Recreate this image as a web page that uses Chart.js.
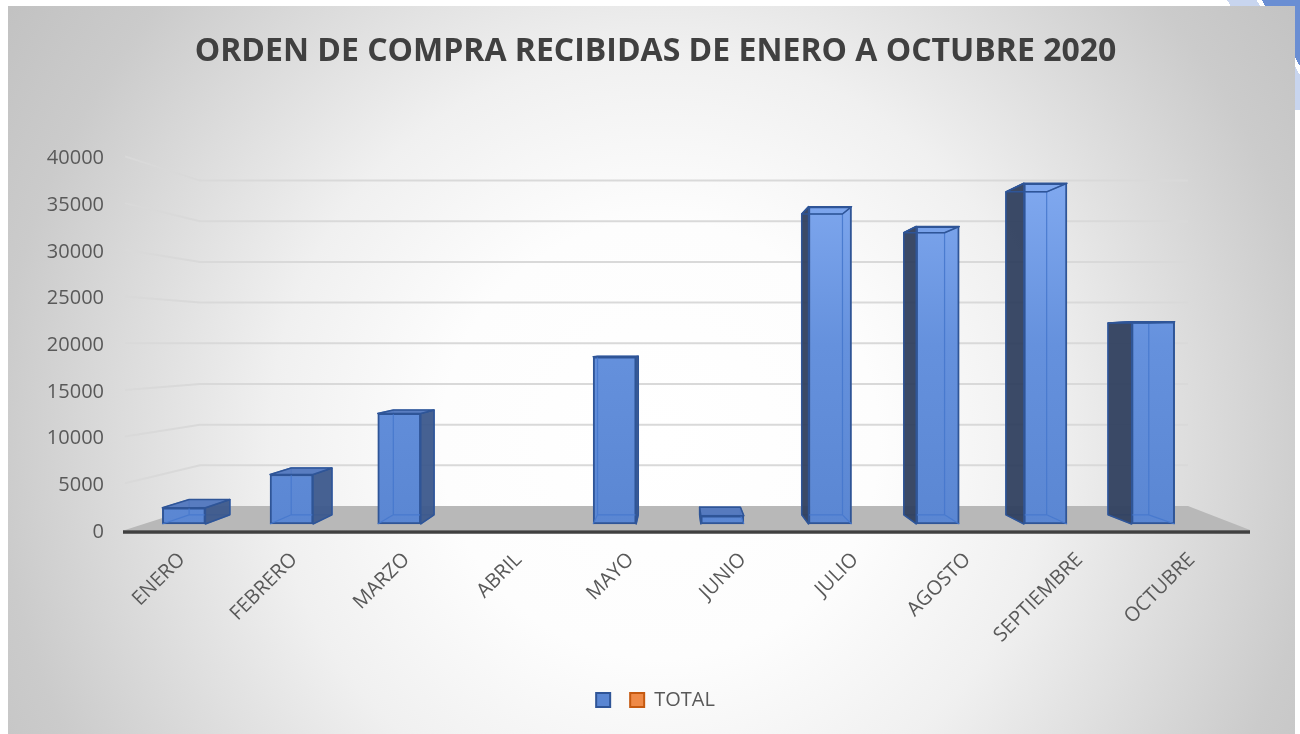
<!DOCTYPE html>
<html>
<head>
<meta charset="utf-8">
<script src="https://cdn.jsdelivr.net/npm/chart.js@4.4.1/dist/chart.umd.min.js"></script>
<style>
  html, body { margin: 0; padding: 0; background: #fff; }
  #wrap { position: relative; width: 1300px; height: 734px; overflow: hidden; }
  #deco {
    position: absolute; right: 0; top: 0; width: 110px; height: 110px;
    background: linear-gradient(240deg, #6a8ed3 0 22%, #fff 22% 25%, #c8d5ef 25% 42%, #fff 42%);
  }
  canvas { position: absolute; left: 0; top: 0; }
</style>
</head>
<body>
<div id="wrap">
  <div id="deco"></div>
  <canvas id="chart" width="1300" height="734"></canvas>
</div>
<script>
const TITULO = "ORDEN DE COMPRA RECIBIDAS DE ENERO A OCTUBRE 2020";
const MESES = ["ENERO", "FEBRERO", "MARZO", "ABRIL", "MAYO", "JUNIO", "JULIO", "AGOSTO", "SEPTIEMBRE", "OCTUBRE"];
const VALORES = [1800, 5500, 12300, 0, 18600, 900, 35300, 33100, 37900, 22500];
const TOTAL = [null, null, null, null, null, null, null, null, null, null];
const Y_MAX = 40000;
const Y_STEP = 5000;

// 3D look: vanishing point and depth factor of the back face
const VP = { x: 677, y: 348 };
const DEPTH = 0.948;

Chart.defaults.font.family = "'Open Sans', sans-serif";

const chartCanvas = document.getElementById("chart");

function backPoint(p) {
  return { x: VP.x + DEPTH * (p.x - VP.x), y: VP.y + DEPTH * (p.y - VP.y) };
}

function poly(ctx, pts, fill, stroke, lw) {
  ctx.beginPath();
  ctx.moveTo(pts[0].x, pts[0].y);
  for (let i = 1; i < pts.length; i++) ctx.lineTo(pts[i].x, pts[i].y);
  ctx.closePath();
  if (fill) { ctx.fillStyle = fill; ctx.fill(); }
  if (stroke) { ctx.strokeStyle = stroke; ctx.lineWidth = lw || 1.5; ctx.stroke(); }
}

// background, floor and back wall gridlines
const scenePlugin = {
  id: "scene",
  beforeDraw(chart) {
    const ctx = chart.ctx;
    const area = chart.chartArea;
    const yScale = chart.scales.y;
    ctx.save();
    const g = ctx.createRadialGradient(660, 440, 0, 660, 440, 780);
    g.addColorStop(0, "#ffffff");
    g.addColorStop(0.28, "#fdfdfd");
    g.addColorStop(0.5, "#f0f0f0");
    g.addColorStop(0.85, "#cbcbcb");
    g.addColorStop(1, "#c2c2c2");
    ctx.fillStyle = g;
    ctx.fillRect(8, 6, 1287, 728);

    const y0 = yScale.getPixelForValue(0);
    const yFront = y0 - 2;
    const backY = (v) => 506 - (y0 - yScale.getPixelForValue(v)) * 0.871;
    const xFrontL = area.left - 5, xBackL = area.left + 70;
    const xBackR = area.right + 7, xFrontR = area.right + 69;

    // gridlines
    ctx.strokeStyle = "#d9d9d9";
    ctx.lineWidth = 2;
    for (let v = Y_STEP; v <= Y_MAX; v += Y_STEP) {
      const yl = yScale.getPixelForValue(v) - 2;
      const yb = backY(v);
      ctx.beginPath();
      ctx.moveTo(xFrontL, yl);
      ctx.lineTo(xBackL, yb);
      ctx.lineTo(xBackR, yb);
      ctx.stroke();
    }

    // floor
    poly(ctx, [
      { x: xFrontL, y: yFront }, { x: xBackL, y: backY(0) },
      { x: xBackR, y: backY(0) }, { x: xFrontR, y: yFront }
    ], "#b8b8b8");

    ctx.strokeStyle = "#404040";
    ctx.lineWidth = 3.5;
    ctx.beginPath();
    ctx.moveTo(xFrontL - 2, y0);
    ctx.lineTo(xFrontR, y0);
    ctx.stroke();
    ctx.restore();
  }
};

// side and top faces of the columns
const boxPlugin = {
  id: "box3d",
  afterDatasetsDraw(chart) {
    const ctx = chart.ctx;
    const meta = chart.getDatasetMeta(0);
    ctx.save();
    ctx.lineJoin = "round";
    meta.data.forEach((bar, i) => {
      if (!VALORES[i]) return;
      const { x, y, base, width } = bar.getProps(["x", "y", "base", "width"], true);
      const l = x - width / 2, r = x + width / 2;
      const FLt = { x: l, y: y }, FRt = { x: r, y: y };
      const FLb = { x: l, y: base }, FRb = { x: r, y: base };
      const BLt = backPoint(FLt), BRt = backPoint(FRt);
      const BLb = backPoint(FLb), BRb = backPoint(FRb);

      // hidden edges seen through the glassy column
      ctx.strokeStyle = "rgba(70,120,205,0.9)";
      ctx.lineWidth = 1.2;
      ctx.beginPath();
      [[BLt, BRt], [BRt, BRb], [BRb, BLb], [BLb, BLt], [FLb, BLb], [FRb, BRb], [FLt, BLt], [FRt, BRt]]
        .forEach(([a, b]) => { ctx.moveTo(a.x, a.y); ctx.lineTo(b.x, b.y); });
      ctx.stroke();

      if (r < VP.x) {
        poly(ctx, [FRt, FRb, BRb, BRt], "rgba(60,88,140,0.95)", "#2f5597", 1.5);
      } else if (l > VP.x) {
        poly(ctx, [FLt, FLb, BLb, BLt], "rgba(48,64,95,0.95)", "#2f5597", 1.5);
      }
      if (y > VP.y) {
        poly(ctx, [FLt, FRt, BRt, BLt], "rgba(80,118,190,0.95)", "#2f5597", 1.5);
      } else {
        poly(ctx, [FLt, FRt, BRt, BLt], null, "#2f5597", 1.5);
      }
    });
    ctx.restore();
  }
};

const chart = new Chart(chartCanvas, {
  type: "bar",
  data: {
    labels: MESES,
    datasets: [
      {
        label: "",
        data: VALORES.map((v, i) => ({ x: i, y: v })),
        xAxisID: "x",
        yAxisID: "y2",
        grouped: false,
        barThickness: 43,
        borderWidth: 2,
        borderSkipped: false,
        borderColor: "#2f5597",
        backgroundColor: (c) => {
          const area = c.chart.chartArea;
          if (c.type !== "data" || !area) return "#5b87d2";
          const g = c.chart.ctx.createLinearGradient(0, area.top, 0, area.bottom);
          g.addColorStop(0, "#84acf2");
          g.addColorStop(0.5, "#6591dd");
          g.addColorStop(1, "#5a86d2");
          return g;
        }
      },
      {
        label: "TOTAL",
        data: TOTAL.map((v, i) => ({ x: i, y: v })),
        xAxisID: "x",
        yAxisID: "y2",
        grouped: false,
        barThickness: 43,
        backgroundColor: "#ef8a47",
        borderColor: "#c55a11",
        borderWidth: 2
      }
    ]
  },
  options: {
    responsive: false,
    animation: false,
    devicePixelRatio: 1,
    layout: { padding: { left: 0, right: 119, top: 0, bottom: 14 } },
    scales: {
      // columns: one slot per month
      x: { type: "linear", display: false, offset: false, min: -0.5, max: 9.2586 },
      // month labels sit a little wider apart than the columns (front plane)
      x2: {
        type: "linear",
        position: "bottom",
        offset: false,
        min: -0.4635,
        max: 8.9037,
        afterBuildTicks: (s) => { s.ticks = MESES.map((m, i) => ({ value: i })); },
        afterFit: (s) => { s.height = 148; },
        grid: { display: false, drawTicks: false },
        border: { display: false },
        ticks: {
          autoSkip: false,
          minRotation: 45,
          maxRotation: 45,
          padding: 16,
          color: "#595959",
          font: { size: 20 },
          callback: (v) => MESES[v]
        }
      },
      y: {
        type: "linear",
        position: "left",
        min: 0,
        max: Y_MAX,
        afterFit: (s) => { s.width = 130; },
        grid: { display: false, drawTicks: false },
        border: { display: false },
        ticks: {
          stepSize: Y_STEP,
          padding: 26,
          color: "#595959",
          font: { size: 20 },
          callback: (v) => String(v)
        }
      },
      // columns sit a bit behind the axis plane, so their scale is slightly smaller
      y2: { type: "linear", display: false, min: -894, max: 40670 }
    },
    plugins: {
      title: {
        display: true,
        fullSize: false,
        text: TITULO,
        color: "#404040",
        font: { size: 32, weight: "bold" },
        padding: { top: 33, bottom: 87 }
      },
      legend: {
        display: true,
        fullSize: false,
        position: "bottom",
        labels: {
          boxWidth: 14,
          boxHeight: 14,
          padding: 10,
          color: "#595959",
          font: { size: 20 }
        }
      },
      tooltip: { enabled: false }
    }
  },
  plugins: [scenePlugin, boxPlugin]
});
</script>
</body>
</html>
